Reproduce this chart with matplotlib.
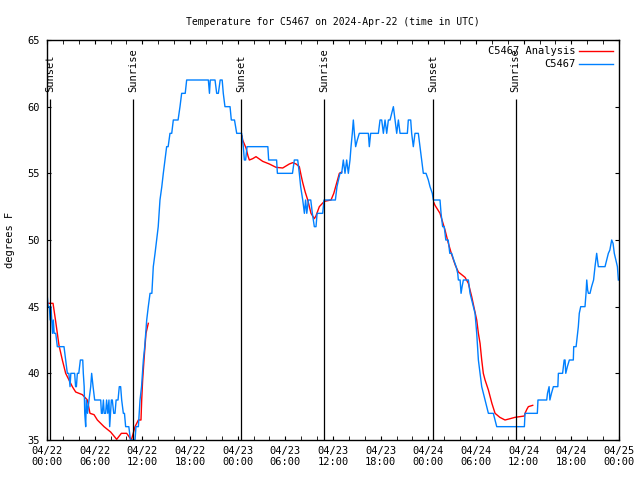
import pandas as pd
import matplotlib
matplotlib.use('Agg')
import matplotlib.pyplot as plt
import matplotlib.dates as mdates
from matplotlib.ticker import MultipleLocator

# hours after 2024-04-22 00:00 UTC, temperatures in F
obs_hours = [0.00, 0.15, 0.30, 0.40, 0.50, 0.60, 0.70, 0.80, 0.90, 1.10, 1.30, 2.14, 2.35, 2.56,
             2.75, 2.90, 3.00, 3.48, 3.60, 3.70, 3.82, 4.00, 4.20, 4.36, 4.50, 4.57, 4.68, 4.75,
             4.87, 4.95, 5.10, 5.29, 5.50, 5.62, 5.80, 6.00, 6.76, 6.85, 6.96, 7.10, 7.20, 7.38,
             7.50, 7.65, 7.80, 7.89, 8.00, 8.10, 8.22, 8.40, 8.56, 8.70, 8.94, 9.10, 9.27, 9.40,
             9.61, 9.75, 9.90, 10.03, 10.30, 10.50, 11.08, 11.20, 11.50, 11.60, 11.71, 11.90,
             12.13, 12.30, 12.55, 12.75, 12.97, 13.20, 13.38, 13.60, 13.80, 14.00, 14.22, 14.45,
             14.64, 14.85, 15.06, 15.25, 15.48, 15.70, 15.90, 16.50, 16.74, 16.95, 17.16, 17.40,
             17.58, 20.31, 20.45, 20.55, 21.15, 21.36, 21.57, 21.80, 22.05, 22.19, 22.40, 22.62,
             23.04, 23.20, 23.60, 23.88, 24.10, 24.50, 24.71, 24.84, 25.00, 25.18, 27.80, 27.90,
             28.90, 29.00, 30.90, 31.13, 31.56, 31.76, 31.93, 32.19, 32.40, 32.55, 32.70, 32.90,
             33.20, 33.40, 33.65, 33.86, 34.00, 34.30, 34.70, 34.87, 36.30, 36.50, 36.88, 37.09,
             37.30, 37.51, 37.72, 37.93, 38.14, 38.27, 38.43, 38.56, 38.69, 38.85, 39.06, 39.31,
             40.45, 40.57, 40.74, 41.71, 41.92, 42.13, 42.34, 42.55, 42.76, 42.97, 43.18, 43.39,
             43.60, 43.81, 44.02, 44.23, 44.44, 45.36, 45.48, 45.78, 45.90, 46.11, 46.32, 46.74,
             46.95, 47.16, 47.37, 47.71, 48.00, 48.21, 48.50, 48.63, 49.47, 49.60, 49.80, 50.00,
             50.20, 50.50, 50.70, 50.94, 51.20, 51.50, 51.70, 51.78, 52.00, 52.12, 52.25, 52.41,
             53.04, 53.15, 53.25, 53.46, 53.67, 53.88, 54.09, 54.20, 54.30, 54.51, 54.72, 54.93,
             55.14, 55.35, 55.56, 56.18, 56.40, 56.61, 60.09, 60.17, 61.72, 61.80, 62.90, 63.00,
             63.20, 63.30, 63.50, 63.74, 64.30, 64.37, 64.90, 65.10, 65.21, 65.30, 65.50, 65.75,
             66.25, 66.30, 66.60, 66.88, 67.00, 67.18, 67.72, 67.85, 67.94, 68.05, 68.15, 68.35,
             68.55, 68.80, 68.98, 69.19, 69.30, 69.40, 70.24, 70.45, 70.66, 70.85, 71.08, 71.25,
             71.41, 71.60, 71.80, 71.92]
obs_temps = [46, 45, 45, 44, 45, 44, 43, 44, 43, 43, 42, 42, 41, 40,
             40, 39, 40, 40, 39, 39, 40, 40, 41, 41, 41, 40, 39, 37,
             36, 38, 37, 38, 39, 40, 39, 38, 38, 37, 37, 38, 37, 37,
             38, 37, 38, 36, 37, 38, 38, 37, 37, 38, 38, 39, 39, 38,
             37, 37, 36, 36, 36, 35, 35, 36, 36, 37, 38, 39,
             41, 42, 44, 45, 46, 46, 48, 49, 50, 51, 53, 54,
             55, 56, 57, 57, 58, 58, 59, 59, 60, 61, 61, 61,
             62, 62, 61, 62, 62, 61, 61, 62, 62, 61, 60, 60,
             60, 59, 59, 58, 58, 58, 57, 56, 56, 57, 57, 56,
             56, 55, 55, 56, 56, 55, 54, 53, 52, 53, 52, 53,
             53, 52, 51, 51, 52, 52, 52, 53, 53, 54, 55, 55,
             56, 55, 56, 55, 56, 57, 58, 59, 58, 57, 57.5, 58,
             58, 57, 58, 58, 59, 59, 58, 59, 58, 59, 59, 59.5,
             60, 59, 58, 59, 58, 58, 59, 59, 58, 57, 58, 58,
             57, 56, 55, 55, 54.5, 54, 53.5, 53, 53, 52, 51, 51,
             50, 50, 49, 49, 48.5, 48, 47.5, 47, 47, 46, 46.5, 47,
             47, 46.5, 46, 45.5, 45, 44.5, 43, 42, 41, 40, 39, 38.5,
             38, 37.5, 37, 37, 36.5, 36, 36, 37, 37, 38, 38, 38.5,
             39, 38, 38.5, 39, 39, 40, 40, 41, 41, 40, 40.5, 41,
             41, 42, 42, 43.5, 44.5, 45, 45, 46, 47, 46.25, 46, 46,
             46.5, 47, 48, 49, 48.5, 48, 48, 48.5, 49, 49.25, 50, 49.75,
             49, 48.5, 48, 47]

# analysis runs in three separate night-time pieces
ana1_hours = [0.13, 0.76, 1.09, 1.51, 1.93, 2.35, 2.77, 3.19, 3.61, 4.45, 5.08, 5.41, 5.92, 6.34,
              7.18, 8.01, 8.77, 9.36, 10.03, 10.62, 11.08, 11.50, 11.83, 11.92, 12.04, 12.21,
              12.46, 12.75]
ana1_temps = [45.25, 45.25, 43.9, 42.1, 41, 40, 39.5, 39, 38.6, 38.4, 38, 37, 36.9, 36.5,
              36, 35.6, 35.05, 35.5, 35.5, 35, 36, 36.5, 36.5, 38, 39.5, 41,
              43, 43.75]
ana2_hours = [24.55, 24.63, 25.05, 25.30, 25.47, 25.89, 26.31, 27.15, 27.99, 28.83, 29.67, 30.50,
              30.93, 31.35, 31.76, 32.00, 32.19, 32.50, 32.82, 33.23, 33.65, 33.85, 34.28, 34.91,
              35.75, 36.10, 36.38, 36.80, 37.10]
ana2_temps = [57.8, 57.5, 56.9, 56.3, 56, 56.1, 56.25, 55.9, 55.7, 55.45, 55.4, 55.7,
              55.8, 55.7, 55.5, 54.8, 54.3, 53.6, 53, 52, 51.6, 51.8, 52.5, 52.9,
              53, 53.5, 54.1, 55, 55.1]
ana3_hours = [48.70, 48.84, 49.47, 50.10, 50.50, 50.94, 51.40, 51.78, 52.20, 52.62, 53.04, 53.46,
              53.80, 54.09, 54.30, 54.51, 54.72, 54.92, 55.14, 55.56, 56.00, 56.40, 57.00, 57.65,
              58.30, 58.91, 59.50, 60.09, 60.17, 60.40, 60.59, 61.14]
ana3_temps = [52.8, 52.6, 52, 50.75, 49.8, 48.9, 48.1, 47.6, 47.4, 47.2, 46.75, 45.75,
              44.8, 44, 43, 42.25, 41, 40, 39.5, 38.75, 37.75, 37, 36.7, 36.5,
              36.6, 36.7, 36.75, 36.8, 37, 37.3, 37.5, 37.6]

sun_hours = [0.35, 10.85, 24.45, 34.9, 48.6, 59.0]
sun_labels = ['Sunset', 'Sunrise', 'Sunset', 'Sunrise', 'Sunset', 'Sunrise']

start = pd.Timestamp('2024-04-22 00:00')


def to_time(hours):
    return start + pd.to_timedelta(pd.Series(hours, dtype=float), unit='h')


plt.rcParams['font.family'] = 'DejaVu Sans Mono'
plt.rcParams['font.size'] = 7.5

fig = plt.figure(figsize=(6.4, 4.8), dpi=100)
ax = fig.add_axes([47 / 640, 40 / 480, 572 / 640, 400 / 480])

ana_label = 'C5467 Analysis'
for hrs, vals in [(ana1_hours, ana1_temps), (ana2_hours, ana2_temps), (ana3_hours, ana3_temps)]:
    ax.plot(to_time(hrs), vals, color='#ff0000', lw=1.0, label=ana_label)
    ana_label = None
ax.plot(to_time(obs_hours), obs_temps, color='#0080ff', lw=1.0, label='C5467')

for h, lab in zip(sun_hours, sun_labels):
    t = start + pd.Timedelta(hours=h)
    ax.vlines(t, 35, 60.6, color='black', lw=0.9)
    ax.text(t, 61.1, lab, rotation=90, ha='center', va='bottom', fontsize=7.5)

ax.set_xlim(start, start + pd.Timedelta(hours=72))
ax.set_ylim(35, 65)
ax.yaxis.set_major_locator(MultipleLocator(5))
ax.xaxis.set_major_locator(mdates.HourLocator(byhour=[0, 6, 12, 18]))
ax.xaxis.set_minor_locator(mdates.HourLocator(interval=2))
ax.xaxis.set_major_formatter(mdates.DateFormatter('%m/%d\n%H:%M'))
ax.tick_params(which='both', direction='in', top=True, right=True)
ax.tick_params(axis='x', which='major', length=3, pad=4)
ax.tick_params(axis='x', which='minor', length=3)
ax.tick_params(axis='y', which='major', length=3, pad=5)
for s in ax.spines.values():
    s.set_linewidth(1.0)

ax.set_title('Temperature for C5467 on 2024-Apr-22 (time in UTC)', fontsize=7, pad=11)
ax.set_ylabel('degrees F')
ax.yaxis.set_label_coords(-0.056, 0.5)

ax.legend(loc='upper right', frameon=False, markerfirst=False, handlelength=3.2,
          borderaxespad=0.2, labelspacing=0.3, handletextpad=0.4, fontsize=7.5)

fig.savefig('out.png', dpi=100)
